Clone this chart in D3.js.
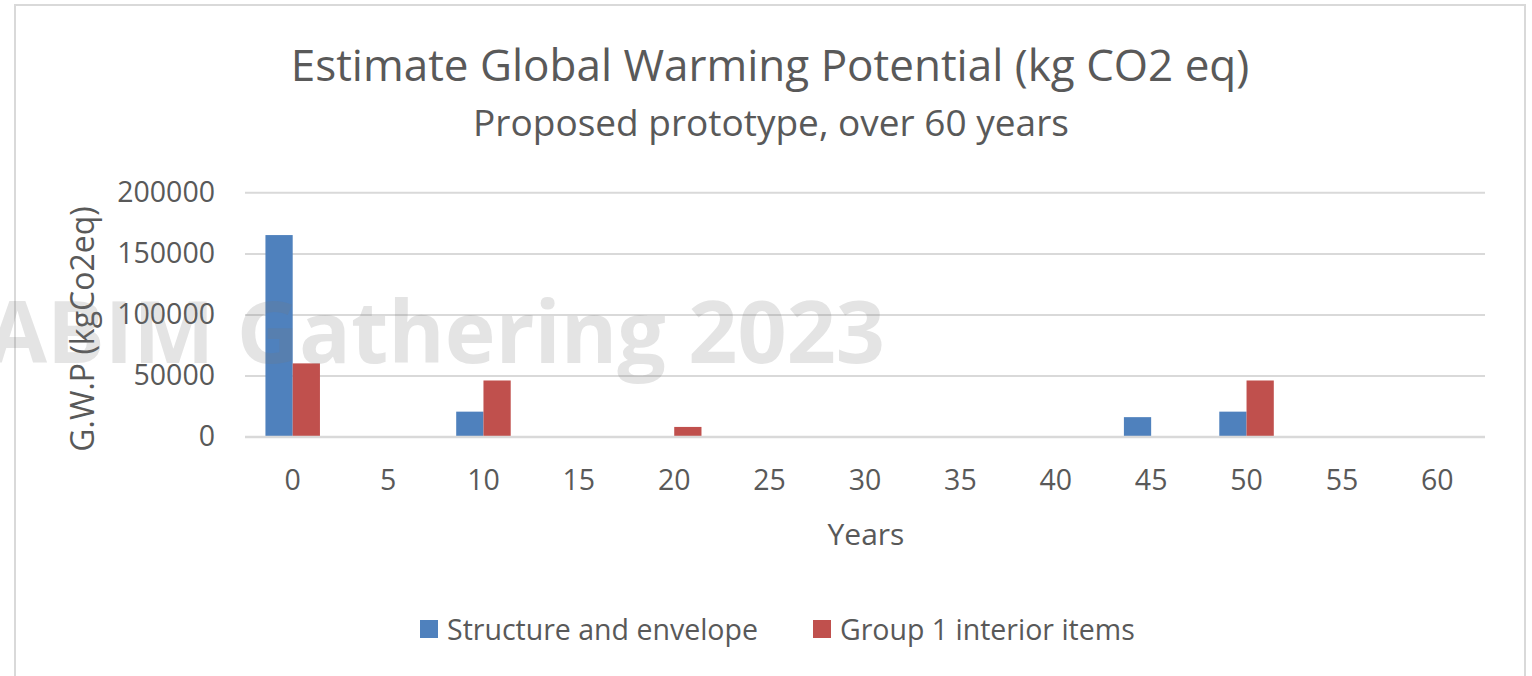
<!DOCTYPE html>
<html>
<head>
<meta charset="utf-8">
<script src="https://cdn.jsdelivr.net/npm/d3@7"></script>
<style>
  html, body { margin: 0; padding: 0; background: #ffffff; }
  svg { display: block; }
  text { font-family: "Open Sans", "Noto Sans", sans-serif; fill: #595959; }
</style>
</head>
<body>
<svg id="chart" width="1532" height="676"></svg>
<script>
// Years on the category axis
const years = ["0", "5", "10", "15", "20", "25", "30", "35", "40", "45", "50", "55", "60"];
// Global warming potential per year, kg CO2 eq
const structureEnvelope = [165000, 0, 20500, 0, 0, 0, 0, 0, 0, 16000, 20500, 0, 0];
const interiorItems = [60000, 0, 46000, 0, 8000, 0, 0, 0, 0, 0, 46000, 0, 0];
const seriesNames = ["Structure and envelope", "Group 1 interior items"];
const seriesColors = ["#4f81bd", "#c0504d"];
const yTicks = [0, 50000, 100000, 150000, 200000];

const svg = d3.select("#chart");

// Chart frame
svg.append("rect")
  .attr("x", 15).attr("y", 5).attr("width", 1510).attr("height", 700)
  .attr("fill", "#ffffff").attr("stroke", "#d9d9d9").attr("stroke-width", 2);

const plot = { left: 245, right: 1485, top: 192.3, bottom: 436.7 };

const x = d3.scaleBand().domain(years).range([plot.left, plot.right]).paddingInner(0).paddingOuter(0);
const xs = d3.scaleBand().domain(seriesNames).range([0, x.bandwidth()]).paddingInner(0).paddingOuter(0.75);
const y = d3.scaleLinear().domain([0, 200000]).range([plot.bottom, plot.top]);

// Titles
svg.append("text")
  .attr("x", 770).attr("y", 81)
  .attr("text-anchor", "middle")
  .style("font-size", "44px")
  .text("Estimate Global Warming Potential (kg CO2 eq)");
svg.append("text")
  .attr("x", 771).attr("y", 136)
  .attr("text-anchor", "middle")
  .style("font-size", "37px")
  .text("Proposed prototype, over 60 years");

// Horizontal gridlines and y labels
const yAxis = d3.axisLeft(y).tickValues(yTicks).tickFormat(d3.format("d"))
  .tickSize(-(plot.right - plot.left)).tickPadding(30);
const gy = svg.append("g").attr("transform", `translate(${plot.left},0)`).call(yAxis);
gy.select(".domain").remove();
gy.selectAll(".tick line").attr("stroke", "#d9d9d9").attr("stroke-width", 2);
gy.selectAll(".tick text")
  .style("font-size", "28.5px").style("font-family", "'Open Sans', sans-serif")
  .attr("fill", "#595959");

// Category labels
const xAxis = d3.axisBottom(x).tickSize(0).tickPadding(33);
const gx = svg.append("g").attr("transform", `translate(0,${plot.bottom})`).call(xAxis);
gx.select(".domain").remove();
gx.selectAll(".tick text")
  .style("font-size", "28.5px").style("font-family", "'Open Sans', sans-serif")
  .attr("fill", "#595959");

// Bars
const rows = years.map((yr, i) => ({ year: yr, values: [structureEnvelope[i], interiorItems[i]] }));
const groups = svg.append("g").selectAll("g").data(rows).join("g")
  .attr("transform", d => `translate(${x(d.year)},0)`);
groups.selectAll("rect")
  .data(d => d.values.map((v, k) => ({ name: seriesNames[k], value: v, color: seriesColors[k] })))
  .join("rect")
  .filter(d => d.value > 0)
  .attr("x", d => xs(d.name))
  .attr("width", xs.bandwidth())
  .attr("y", d => y(d.value))
  .attr("height", d => y(0) - y(d.value))
  .attr("fill", d => d.color);

// Redraw the baseline over the bars
svg.append("line")
  .attr("x1", plot.left).attr("x2", plot.right)
  .attr("y1", y(0)).attr("y2", y(0))
  .attr("stroke", "#d9d9d9").attr("stroke-width", 2);

// Axis titles
svg.append("text")
  .attr("x", 866).attr("y", 545)
  .attr("text-anchor", "middle")
  .style("font-size", "30px")
  .text("Years");
svg.append("text")
  .attr("transform", "translate(94,329) rotate(-90)")
  .attr("text-anchor", "middle")
  .style("font-size", "32px")
  .text("G.W.P (kgCo2eq)");

// Legend
const legend = svg.append("g");
const legendX = [420, 813];
seriesNames.forEach((name, k) => {
  legend.append("rect")
    .attr("x", legendX[k]).attr("y", 620).attr("width", 18).attr("height", 18)
    .attr("fill", seriesColors[k]);
  legend.append("text")
    .attr("x", legendX[k] + 27).attr("y", 640)
    .style("font-size", "28.5px")
    .text(name);
});

// Event watermark
svg.append("text")
  .attr("x", 885).attr("y", 363)
  .attr("text-anchor", "end")
  .style("font-family", "'Open Sans', sans-serif")
  .style("font-weight", "bold")
  .style("font-size", "86px")
  .style("fill", "rgba(120,120,120,0.2)")
  .text("ABIM Gathering 2023");
</script>
</body>
</html>
